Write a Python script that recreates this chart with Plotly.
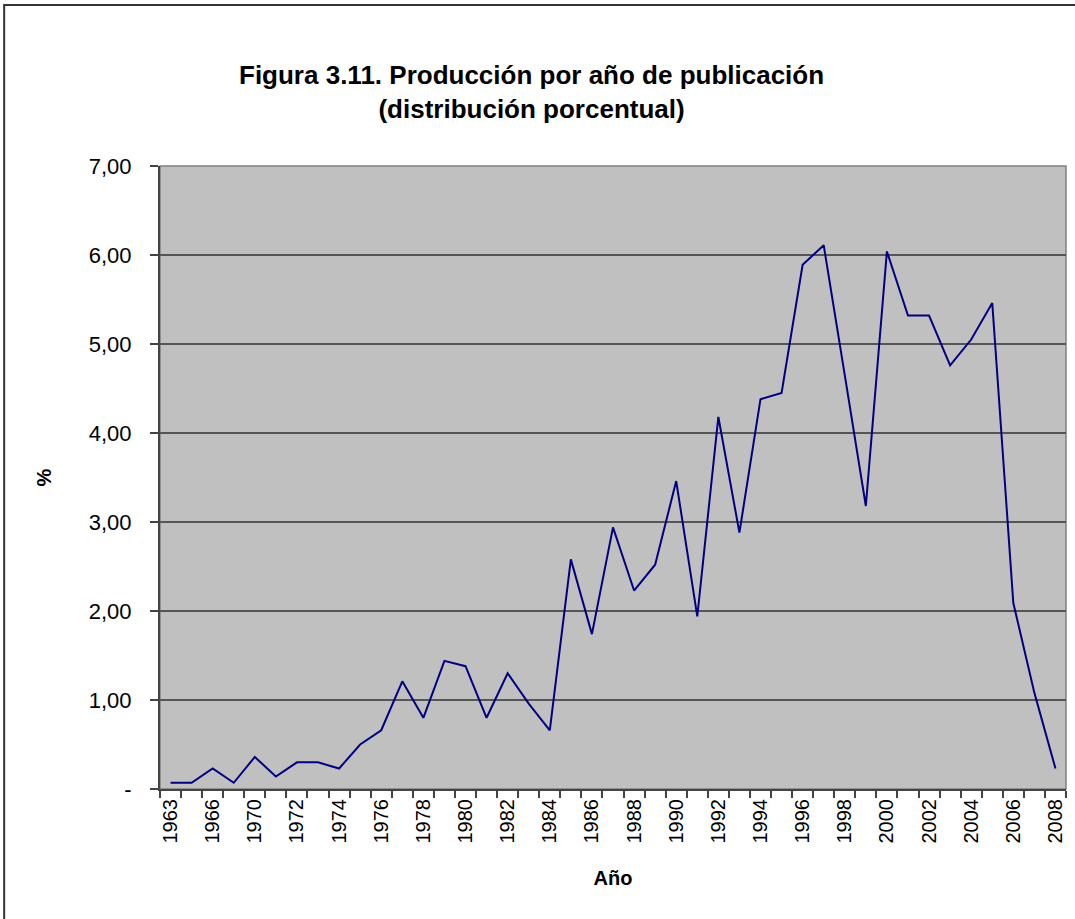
import plotly.graph_objects as go

# categories (year of publication); two early years are not labelled in the source
years = ["1963", "1965", "1966", "1968", "1970"] + [str(y) for y in range(1971, 2009)]
pct = [0.07, 0.07, 0.23, 0.07, 0.36, 0.14, 0.30, 0.30, 0.23, 0.50,
       0.66, 1.21, 0.80, 1.44, 1.38, 0.80, 1.30, 0.96, 0.66, 2.58,
       1.74, 2.94, 2.23, 2.52, 3.46, 1.94, 4.18, 2.88, 4.38, 4.45,
       5.89, 6.11, 4.65, 3.18, 6.04, 5.32, 5.32, 4.76, 5.05, 5.46,
       2.09, 1.08, 0.23]
shown_years = ["1963", "1966", "1970"] + [str(y) for y in range(1972, 2009, 2)]
y_ticks = [0, 1, 2, 3, 4, 5, 6, 7]
y_labels = ["-", "1,00", "2,00", "3,00", "4,00", "5,00", "6,00", "7,00"]

FONT = "Liberation Sans, Arial, sans-serif"

fig = go.Figure()
fig.add_trace(
    go.Scatter(
        x=years,
        y=pct,
        mode="lines",
        line=dict(color="#000080", width=2),
        showlegend=False,
    )
)

fig.update_layout(
    width=1075,
    height=919,
    margin=dict(l=160, r=9, t=166, b=130),
    paper_bgcolor="white",
    plot_bgcolor="#C0C0C0",
    font=dict(family=FONT, size=20, color="black"),
    showlegend=False,
)

fig.update_xaxes(
    type="category",
    range=[-0.5, len(years) - 0.5],
    tickmode="array",
    tickvals=years,
    ticktext=[y if y in shown_years else "" for y in years],
    tickson="boundaries",
    ticks="outside",
    ticklen=7,
    tickwidth=1.5,
    tickcolor="#444",
    tickangle=-90,
    tickfont=dict(size=20),
    showgrid=False,
    showline=True,
    linecolor="#444",
    linewidth=2,
    title=dict(text="<b>Año</b>", font=dict(size=20), standoff=28),
)

fig.update_yaxes(
    range=[0, 7],
    tickmode="array",
    tickvals=y_ticks,
    ticktext=y_labels,
    ticks="outside",
    ticklen=8,
    tickwidth=1.5,
    tickcolor="#444",
    ticklabelstandoff=14,
    tickfont=dict(size=22),
    showgrid=True,
    gridcolor="#555555",
    gridwidth=1.5,
    zeroline=False,
    showline=True,
    linecolor="#444",
    linewidth=2,
    title=dict(text="<b>%</b>", font=dict(size=20), standoff=32),
)

# plot area frame (top/right in grey)
fig.add_shape(type="rect", xref="paper", yref="paper", x0=0, x1=1, y0=0, y1=1,
              line=dict(color="#808080", width=1.5), layer="below")

# outer chart border
fig.add_shape(type="rect", xref="paper", yref="paper", x0=-0.172, x1=1.2, y0=-0.5, y1=1.2584,
              line=dict(color="#333333", width=2))

fig.add_annotation(
    text="<b>Figura 3.11. Producción por año de publicación<br>(distribución porcentual)</b>",
    xref="paper", yref="paper", x=0.4095, y=1.1188,
    xanchor="center", yanchor="middle", showarrow=False,
    font=dict(size=26, family=FONT), align="center",
)

fig.write_html("out.html", config={"displayModeBar": False},
               post_script="document.body.style.margin='0';")
